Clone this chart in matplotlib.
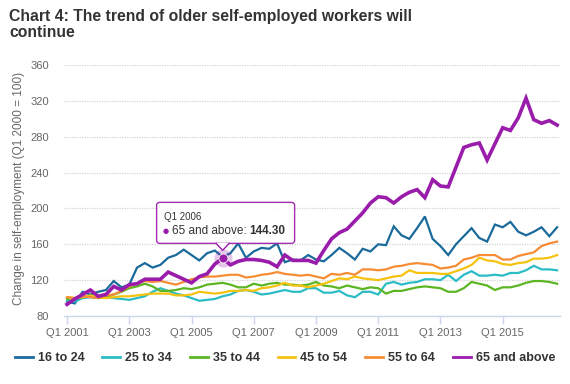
import matplotlib
matplotlib.use('Agg')
import matplotlib.pyplot as plt
import matplotlib.transforms as mtransforms
from matplotlib.patches import FancyBboxPatch, Polygon
import numpy as np

plt.rcParams['font.family'] = ['Liberation Sans', 'DejaVu Sans']

# quarterly index values, Q1 2001 .. Q4 2016 (Q1 2000 = 100)
years = list(range(2001, 2017))
quarters = ['Q%d %d' % (q, y) for y in years for q in range(1, 5)]

age_16_24 = [96, 94, 107, 104, 107, 109, 119, 112, 115, 134, 139, 134, 137, 145, 148, 154,
             148, 142, 150, 153, 146, 150, 161, 145, 152, 156, 155, 161, 140, 143, 142, 148,
             143, 141, 148, 156, 150, 143, 155, 152, 160, 159, 180, 170, 166, 178, 191, 166,
             158, 148, 160, 169, 178, 167, 163, 182, 179, 185, 174, 170, 174, 179, 169, 179]
age_25_34 = [97, 96, 100, 101, 100, 101, 100, 99, 98, 100, 102, 107, 111, 108, 105, 103,
             100, 97, 98, 99, 102, 104, 108, 109, 107, 104, 105, 107, 109, 107, 107, 111,
             111, 106, 106, 108, 103, 101, 107, 107, 104, 116, 118, 115, 117, 118, 121, 121,
             120, 126, 119, 126, 130, 125, 125, 126, 125, 128, 128, 131, 136, 132, 132, 131]
age_35_44 = [99, 100, 101, 102, 100, 101, 104, 107, 111, 113, 116, 113, 108, 108, 109, 111,
             110, 112, 115, 116, 117, 115, 112, 112, 116, 114, 116, 117, 115, 115, 114, 115,
             118, 114, 113, 111, 114, 112, 110, 112, 111, 105, 108, 108, 110, 112, 113, 112,
             111, 107, 107, 111, 118, 116, 114, 109, 112, 112, 114, 117, 119, 119, 118, 116]
age_45_54 = [101, 100, 101, 103, 101, 100, 101, 102, 102, 103, 104, 105, 105, 105, 103, 103,
             104, 107, 106, 105, 106, 108, 108, 109, 108, 111, 112, 114, 117, 114, 114, 112,
             114, 116, 119, 122, 121, 124, 122, 121, 120, 122, 124, 125, 131, 128, 128, 128,
             127, 127, 130, 133, 137, 145, 142, 141, 138, 137, 139, 140, 144, 144, 145, 148]
age_55_64 = [101, 100, 102, 101, 100, 103, 104, 108, 113, 116, 119, 118, 119, 117, 115, 118,
             121, 123, 124, 124, 125, 126, 126, 123, 124, 126, 127, 129, 127, 126, 125, 126,
             124, 122, 127, 126, 128, 126, 132, 132, 131, 132, 135, 136, 138, 139, 138, 137,
             133, 134, 136, 143, 145, 148, 148, 148, 143, 143, 147, 149, 151, 158, 161, 163]
age_65_plus = [93, 99, 104, 109, 102, 104, 113, 109, 115, 116, 121, 121, 121, 129, 125, 121,
               117, 124, 127, 138, 144.3, 137, 141, 143, 143, 142, 140, 135, 148, 142, 142, 142,
               139, 153, 166, 173, 177, 186, 195, 206, 213, 212, 206, 213, 218, 221, 212, 232,
               225, 224, 246, 268, 271, 273, 254, 272, 290, 287, 301, 323, 299, 295, 298, 293]

series_names = ['16 to 24', '25 to 34', '35 to 44', '45 to 54', '55 to 64', '65 and above']
series_values = [age_16_24, age_25_34, age_35_44, age_45_54, age_55_64, age_65_plus]
colors = ['#1b6a9c', '#2bbcc6', '#5cb624', '#f5c20f', '#f68d35', '#9a1cab']
widths = [1.6, 1.6, 1.6, 1.6, 1.6, 2.6]

tick_idx = list(range(0, len(quarters), 8))
yticks = [80, 120, 160, 200, 240, 280, 320, 360]

tip_idx = 20  # Q1 2006 tooltip

fig = plt.figure(figsize=(5.7, 3.84), dpi=100)
ax = fig.add_axes([64 / 570, 1 - 316 / 384, 496 / 570, 251 / 384])

x = np.arange(len(quarters))
lines = []
for name, vals, c, lw in zip(series_names, series_values, colors, widths):
    ln, = ax.plot(x, vals, color=c, lw=lw, label=name, solid_joinstyle='miter')
    lines.append(ln)

ax.set_xlim(-0.39, len(quarters) - 1 + 0.37)
ax.set_ylim(80, 360)
ax.set_yticks(yticks)
ax.set_xticks(tick_idx)
ax.set_xticklabels([quarters[i] for i in tick_idx])

for s in ['top', 'right', 'left']:
    ax.spines[s].set_visible(False)
ax.spines['bottom'].set_color('#ccd6eb')
ax.spines['bottom'].set_linewidth(1)

ax.yaxis.grid(True, color='#d4d4d4', linestyle=(0, (1, 1)), linewidth=0.9)
ax.set_axisbelow(True)
ax.tick_params(axis='y', length=0, pad=11, labelsize=8, labelcolor='#666666')
ax.tick_params(axis='x', length=6, width=1, color='#ccd6eb', pad=3,
               labelsize=8, labelcolor='#666666')

fig.text(19.5 / 570, 1 - 188.5 / 384, 'Change in self-employment (Q1 2000 = 100)',
         rotation=90, ha='center', va='center', fontsize=8.5, color='#666666')

# title
fig.text(9 / 570, 1 - 9 / 384,
         'Chart 4: The trend of older self-employed workers will\ncontinue',
         ha='left', va='top', fontsize=11.3, fontweight='bold', color='#333333',
         linespacing=1.1)

# highlighted point with halo
pc = colors[5]
ax.plot([tip_idx], [age_65_plus[tip_idx]], 'o', ms=13, color=pc, alpha=0.25, mew=0, zorder=5)
ax.plot([tip_idx], [age_65_plus[tip_idx]], 'o', ms=6.5, color=pc, mec='white', mew=0.6, zorder=6)

# tooltip box, placed relative to the highlighted point (display pixels)
ident = mtransforms.IdentityTransform()
ax_x, ax_y = ax.transData.transform((tip_idx, age_65_plus[tip_idx]))
box = FancyBboxPatch((ax_x - 66, ax_y + 15), 138, 41,
                     boxstyle='round,pad=0,rounding_size=3',
                     facecolor='white', edgecolor=pc, linewidth=1,
                     alpha=0.92, transform=ident, zorder=7)
fig.add_artist(box)
tri = Polygon([[ax_x - 7, ax_y + 15.5], [ax_x, ax_y + 8], [ax_x + 7, ax_y + 15.5]],
              closed=False, facecolor='white', edgecolor=pc, linewidth=1,
              transform=ident, zorder=8)
fig.add_artist(tri)
fig.text(ax_x - 59, ax_y + 38, quarters[tip_idx], transform=ident, fontsize=7,
         color='#333333', va='baseline', zorder=9)
fig.text(ax_x - 60, ax_y + 25, '\u25cf', transform=ident, fontsize=5, color=pc,
         va='baseline', family='DejaVu Sans', zorder=9)
t1 = fig.text(ax_x - 51, ax_y + 24, series_names[5] + ': ', transform=ident,
              fontsize=8.5, color='#333333', va='baseline', zorder=9)
fig.canvas.draw()
bb = t1.get_window_extent()
fig.text(bb.x1, ax_y + 24, '%.2f' % age_65_plus[tip_idx], transform=ident,
         fontsize=8.5, fontweight='bold', color='#333333', va='baseline', zorder=9)

leg = fig.legend(lines, series_names, loc='center', bbox_to_anchor=(0.5, 1 - 358 / 384),
                 ncol=6, frameon=False, fontsize=9, handlelength=1.42,
                 handletextpad=0.42, columnspacing=1.42)
for txt in leg.get_texts():
    txt.set_fontweight('bold')
    txt.set_color('#333333')
for h in leg.legend_handles:
    h.set_linewidth(2)

fig.savefig('out.png', dpi=100, facecolor='white')
